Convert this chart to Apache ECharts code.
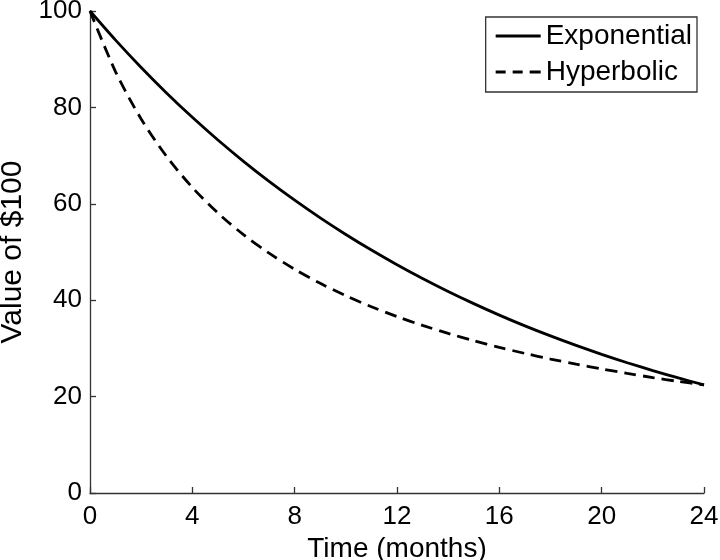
<!DOCTYPE html>
<html>
<head>
<meta charset="utf-8">
<script src="https://cdn.jsdelivr.net/npm/echarts@6/dist/echarts.min.js"></script>
<style>html,body{margin:0;padding:0;background:#fff}#c{width:720px;height:560px}</style>
</head>
<body>
<div id="c"></div>
<script>
var months = [0,1,2,3,4,5,6,7,8,9,10,11,12,13,14,15,16,17,18,19,20,21,22,23,24];
var exponential = [100,93.96,88.29,82.96,77.95,73.24,68.82,64.66,60.76,57.09,53.64,50.40,47.36,44.50,41.81,39.29,36.91,34.68,32.59,30.62,28.77,27.03,25.40,23.87,22.43];
var hyperbolic = [100,87.39,77.60,69.79,63.40,58.09,53.60,49.75,46.42,43.50,40.93,38.65,36.61,34.77,33.11,31.60,30.22,28.96,27.80,26.73,25.73,24.81,23.95,23.15,22.41];
var seriesNames = ['Exponential','Hyperbolic'];
var xTitle = 'Time (months)';
var yTitle = 'Value of $100';

function pairs(vals){ return months.map(function(m,i){ return [m, vals[i]]; }); }

var font = 'Liberation Sans, Arial, Helvetica, sans-serif';
var solidIcon = 'path://M0,0h45v3h-45z';
var dashIcon = 'path://M0,0h10v3h-10zM17,0h10v3h-10zM34,0h11v3h-11z';
var chart = echarts.init(document.getElementById('c'), null, {renderer:'canvas'});
chart.setOption({
  animation:false,
  backgroundColor:'#fff',
  grid:{left:90,right:16,top:11,bottom:67,containLabel:false,outerBoundsMode:'none'},
  legend:{
    orient:'vertical', right:23, top:17,
    data:[{name:seriesNames[0],icon:solidIcon},{name:seriesNames[1],icon:dashIcon}],
    itemWidth:45, itemHeight:3, itemGap:8,
    padding:[5,5,6,10],
    borderColor:'#333', borderWidth:1.3, backgroundColor:'#fff',
    itemStyle:{color:'#000',borderWidth:0},
    lineStyle:{width:0},
    textStyle:{fontFamily:font,fontSize:28,color:'#000',lineHeight:28}
  },
  xAxis:{
    type:'value', min:0, max:24, interval:4,
    name:xTitle, nameLocation:'middle', nameGap:34,
    nameTextStyle:{fontFamily:font,fontSize:28,color:'#000'},
    axisLine:{show:true,onZero:false,lineStyle:{color:'#333',width:1.3}},
    axisTick:{show:true,inside:true,length:6,lineStyle:{color:'#333',width:1.3}},
    axisLabel:{fontFamily:font,fontSize:26,color:'#000',margin:11},
    splitLine:{show:false}
  },
  yAxis:{
    type:'value', min:0, max:100, interval:20,
    name:yTitle, nameLocation:'middle', nameGap:61, nameRotate:90,
    nameTextStyle:{fontFamily:font,fontSize:30,color:'#000'},
    axisLine:{show:true,onZero:false,lineStyle:{color:'#333',width:1.3}},
    axisTick:{show:true,inside:true,length:6,lineStyle:{color:'#333',width:1.3}},
    axisLabel:{fontFamily:font,fontSize:26,color:'#000',margin:8},
    splitLine:{show:false}
  },
  series:[
    {name:seriesNames[0], type:'line', data:pairs(exponential), smooth:0.3, showSymbol:false, symbol:'none',
     lineStyle:{color:'#000',width:2.8,type:'solid'}, itemStyle:{color:'#000'}},
    {name:seriesNames[1], type:'line', data:pairs(hyperbolic), smooth:0.3, showSymbol:false, symbol:'none',
     lineStyle:{color:'#000',width:2.8,type:[12,7]}, itemStyle:{color:'#000'}}
  ]
});
</script>
</body>
</html>
